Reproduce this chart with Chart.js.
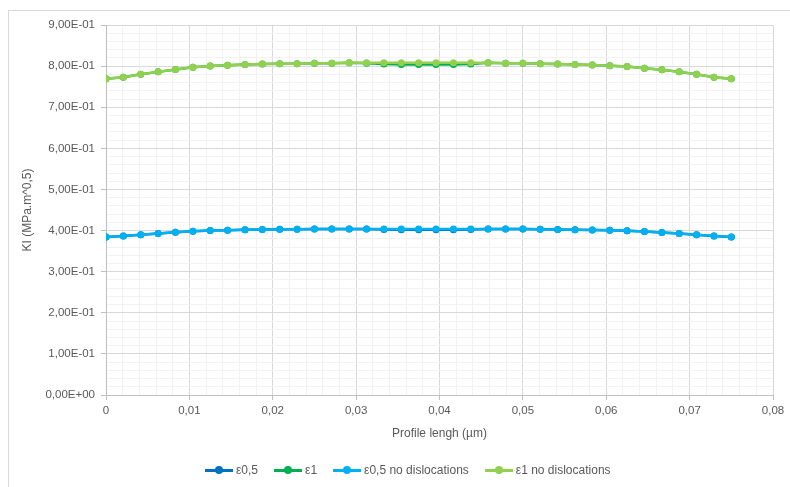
<!DOCTYPE html>
<html lang="en">
<head>
  <meta charset="UTF-8">
  <title>KI profile</title>
  <script src="https://cdn.jsdelivr.net/npm/chart.js"></script>
  <style>
    body { margin: 0; background: #fff; font-family: 'Liberation Sans', sans-serif; }
    #wrap { position: relative; width: 790px; height: 487px; overflow: hidden; }
    #frame { position: absolute; left: 8px; top: 10px; width: 820px; height: 520px; border: 1px solid #d9d9d9; box-sizing: border-box; }
    canvas { position: absolute; left: 0; top: 0; }
    #legend { position: absolute; left: 205px; top: 462px; display: flex; font-size: 12px; color: #595959; }
    .item { display: flex; align-items: center; margin-right: 16px; }
    .mark { position: relative; width: 28px; height: 16px; margin-right: 3px; }
    .mark .ln { position: absolute; left: 0; right: 0; top: 7px; height: 2.5px; }
    .mark .dot { position: absolute; left: 10px; top: 4px; width: 8px; height: 8px; border-radius: 50%; }
  </style>
</head>
<body>
  <div id="wrap">
    <div id="frame"></div>
    <canvas id="kiChart" width="790" height="487"></canvas>
    <div id="legend"></div>
  </div>

  <script>
    // profile positions (µm)
    const positions = [0, 0.00208, 0.00417, 0.00625, 0.00833, 0.01042, 0.0125, 0.01458, 0.01667, 0.01875,
      0.02083, 0.02292, 0.025, 0.02708, 0.02917, 0.03125, 0.03333, 0.03542, 0.0375, 0.03958,
      0.04167, 0.04375, 0.04583, 0.04792, 0.05, 0.05208, 0.05417, 0.05625, 0.05833, 0.06042,
      0.0625, 0.06458, 0.06667, 0.06875, 0.07083, 0.07292, 0.075];

    const eps05 = [0.3845, 0.3865, 0.390, 0.393, 0.396, 0.3985, 0.400, 0.401, 0.402, 0.4025,
      0.403, 0.403, 0.4035, 0.4035, 0.404, 0.404, 0.4025, 0.402, 0.402, 0.402,
      0.402, 0.4025, 0.404, 0.4035, 0.4035, 0.403, 0.4025, 0.402, 0.4015, 0.4005,
      0.3995, 0.3975, 0.3955, 0.393, 0.390, 0.3865, 0.3845];
    const eps1 = [0.769, 0.773, 0.780, 0.786, 0.792, 0.797, 0.800, 0.802, 0.804, 0.805,
      0.806, 0.806, 0.807, 0.807, 0.808, 0.807, 0.805, 0.804, 0.804, 0.804,
      0.804, 0.805, 0.808, 0.807, 0.807, 0.806, 0.805, 0.804, 0.803, 0.801,
      0.799, 0.795, 0.791, 0.786, 0.780, 0.773, 0.769];
    const eps05NoDisl = [0.3845, 0.3865, 0.390, 0.393, 0.396, 0.3985, 0.400, 0.401, 0.402, 0.4025,
      0.403, 0.403, 0.4035, 0.4035, 0.404, 0.404, 0.404, 0.404, 0.404, 0.404,
      0.404, 0.404, 0.404, 0.4035, 0.4035, 0.403, 0.4025, 0.402, 0.4015, 0.4005,
      0.3995, 0.3975, 0.3955, 0.393, 0.390, 0.3865, 0.3845];
    const eps1NoDisl = [0.769, 0.773, 0.780, 0.786, 0.792, 0.797, 0.800, 0.802, 0.804, 0.805,
      0.806, 0.806, 0.807, 0.807, 0.808, 0.808, 0.808, 0.808, 0.808, 0.808,
      0.808, 0.808, 0.808, 0.807, 0.807, 0.806, 0.805, 0.804, 0.803, 0.801,
      0.799, 0.795, 0.791, 0.786, 0.780, 0.773, 0.769];

    const seriesNames = ['ε0,5', 'ε1', 'ε0,5 no dislocations', 'ε1 no dislocations'];
    const seriesColors = ['#0070c0', '#00b050', '#00b0f0', '#92d050'];
    const seriesValues = [eps05, eps1, eps05NoDisl, eps1NoDisl];

    const txt = '#595959';

    function isMajor(v, step) {
      const r = v / step;
      return Math.abs(r - Math.round(r)) < 1e-6;
    }

    function fmtSci(v) {
      if (v === 0) return '0,00E+00';
      let [m, e] = v.toExponential(2).split('e');
      let n = parseInt(e, 10);
      let es = (n < 0 ? '-' : '+') + String(Math.abs(n)).padStart(2, '0');
      return m.replace('.', ',') + 'E' + es;
    }

    const datasets = seriesValues.map((vals, i) => ({
      label: seriesNames[i],
      data: vals.map((y, j) => ({ x: positions[j], y: y })),
      borderColor: seriesColors[i],
      backgroundColor: seriesColors[i],
      borderWidth: 2.5,
      pointRadius: 3.5,
      pointBorderWidth: 0,
      tension: 0,
      order: i < 2 ? 2 : 1
    }));

    new Chart(document.getElementById('kiChart'), {
      type: 'line',
      data: { datasets },
      options: {
        responsive: false,
        animation: false,
        events: [],
        layout: { padding: { left: 14, right: 17, top: 25, bottom: 42 } },
        plugins: { legend: { display: false }, tooltip: { enabled: false } },
        scales: {
          x: {
            type: 'linear',
            min: 0, max: 0.08,
            ticks: {
              stepSize: 0.002,
              autoSkip: false,
              maxRotation: 0,
              padding: 4,
              color: txt,
              font: { family: 'Liberation Sans', size: 11.5 },
              callback: v => isMajor(v, 0.01) ? (Math.round(v * 100) === 0 ? '0' : (v.toFixed(2)).replace('.', ',')) : ''
            },
            grid: {
              color: c => isMajor(c.tick.value, 0.01) ? '#d9d9d9' : '#f2f2f2',
              tickColor: c => isMajor(c.tick.value, 0.01) ? '#bfbfbf' : 'rgba(0,0,0,0)',
              tickLength: 5
            },
            border: { color: '#bfbfbf' },
            title: {
              display: true,
              text: 'Profile lengh (µm)',
              color: txt,
              font: { family: 'Liberation Sans', size: 12 },
              padding: { top: 0, bottom: 4 }
            },
            afterFit: s => { s.height = 50; }
          },
          y: {
            min: 0, max: 0.9,
            ticks: {
              stepSize: 0.02,
              autoSkip: false,
              padding: 6,
              color: txt,
              font: { family: 'Liberation Sans', size: 11.5 },
              callback: v => isMajor(v, 0.1) ? fmtSci(Math.round(v * 10) / 10) : ''
            },
            grid: {
              color: c => isMajor(c.tick.value, 0.1) ? '#d9d9d9' : '#f2f2f2',
              tickColor: c => isMajor(c.tick.value, 0.1) ? '#bfbfbf' : 'rgba(0,0,0,0)',
              tickLength: 5
            },
            border: { color: '#bfbfbf' },
            title: {
              display: true,
              text: 'KI (MPa.m^0,5)',
              color: txt,
              font: { family: 'Liberation Sans', size: 12 },
              padding: { top: 6, bottom: 0 }
            },
            afterFit: s => { s.width = 92; }
          }
        }
      }
    });

    // legend like the spreadsheet one
    const legend = document.getElementById('legend');
    seriesNames.forEach((name, i) => {
      const item = document.createElement('div');
      item.className = 'item';
      item.innerHTML = `<span class="mark"><span class="ln" style="background:${seriesColors[i]}"></span><span class="dot" style="background:${seriesColors[i]}"></span></span><span>${name}</span>`;
      legend.appendChild(item);
    });
  </script>
</body>
</html>
